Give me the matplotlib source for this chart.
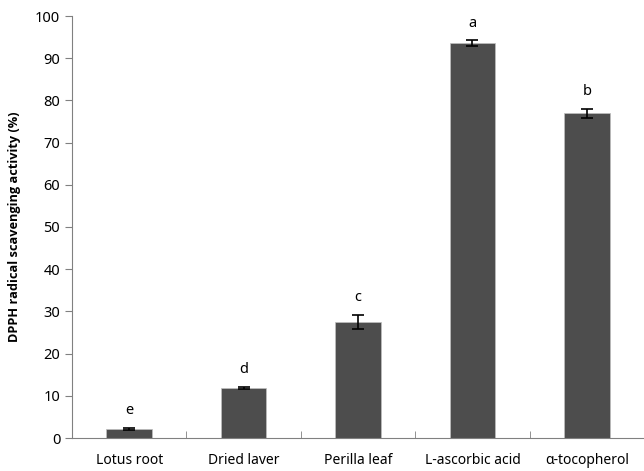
import matplotlib
matplotlib.use("Agg")
import matplotlib.pyplot as plt
import numpy as np

plt.rcParams['font.family'] = ['Noto Sans', 'DejaVu Sans']

categories = ["Lotus root", "Dried laver", "Perilla leaf", "L-ascorbic acid", "α-tocopherol"]
values = [2.2, 11.8, 27.5, 93.6, 76.9]
errors = [0.2, 0.3, 1.7, 0.6, 1.1]
letters = ["e", "d", "c", "a", "b"]
yticks = list(range(0, 101, 10))

fig = plt.figure(figsize=(6.44, 4.71), dpi=100)
ax = fig.add_axes([72/644, 1-438/471, (644-72)/644, (438-16)/471])

x = np.arange(len(categories))
ax.bar(x, values, width=0.4, color="#4d4d4d", edgecolor="#bfbfbf", linewidth=0.5, zorder=2)
ax.errorbar(x, values, yerr=errors, fmt="none", ecolor="black", elinewidth=1.2, capsize=4, capthick=1.2, zorder=3)
for xi, v, e, l in zip(x, values, errors, letters):
    ax.text(xi, v + e + 2.3, l, ha="center", va="bottom", fontsize=10.5)

ax.set_xlim(-0.5, len(categories) - 0.5)
ax.set_ylim(0, 100)
ax.set_yticks(yticks)
ax.set_xticks(x)
ax.set_xticklabels(categories, fontsize=10)
ax.set_xticks(np.arange(len(categories) + 1) - 0.5, minor=True)
ax.tick_params(axis="x", which="major", length=0, pad=11)
ax.tick_params(axis="x", which="minor", direction="in", length=5, color="#808080")
ax.tick_params(axis="y", direction="out", length=5, color="#808080", labelsize=10.5)
for s in ["top", "right"]:
    ax.spines[s].set_visible(False)
for s in ["left", "bottom"]:
    ax.spines[s].set_color("#808080")
ax.set_ylabel("DPPH radical scavenging activity (%)", fontsize=9.2, fontweight="bold",
              family=["Open Sans", "Noto Sans CJK KR", "DejaVu Sans"], labelpad=10)

fig.savefig("out.png", dpi=100)
